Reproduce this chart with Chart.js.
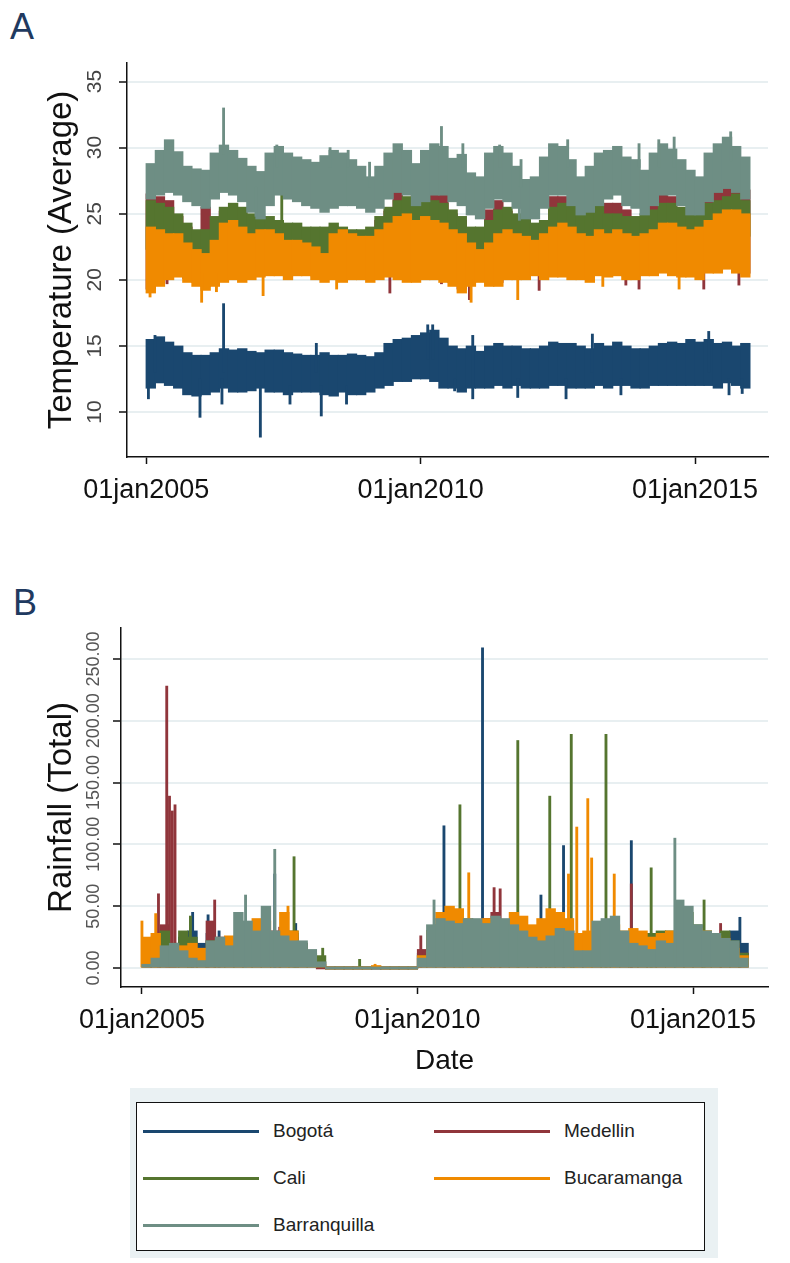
<!DOCTYPE html>
<html>
<head>
<meta charset="utf-8">
<script src="https://cdn.jsdelivr.net/npm/chart.js@4.4.1/dist/chart.umd.min.js"></script>
<style>
  body { margin: 0; background: #fff; width: 790px; height: 1263px; position: relative; overflow: hidden;
         font-family: "Liberation Sans", Arial, sans-serif; }
  canvas { position: absolute; left: 0; }
  .tag { position: absolute; font-size: 36px; line-height: 1; color: #1f3a60; }
  #legendBg { position: absolute; left: 130px; top: 1088px; width: 588px; height: 170px; background: #eaf1f3; }
  #legendBox { position: absolute; left: 136px; top: 1102px; width: 567px; height: 147px; border: 1.5px solid #111; background: #fff; }
  .key { position: absolute; height: 3px; width: 116px; }
  .lab { position: absolute; font-size: 19px; line-height: 20px; color: #222; }
</style>
</head>
<body>
<div class="tag" style="left:10px;top:9px">A</div>
<div class="tag" style="left:13px;top:585px">B</div>
<canvas id="chartA" width="790" height="540" style="top:0"></canvas>
<canvas id="chartB" width="790" height="520" style="top:560px"></canvas>
<div id="legendBg"></div>
<div id="legendBox"></div>
<div id="legend"></div>
<script>
// categories: two-month periods, Jan 2005 .. Nov 2015
const years = [2005, 2006, 2007, 2008, 2009, 2010, 2011, 2012, 2013, 2014, 2015]
const bimonthStarts = [0, 2, 4, 6, 8, 10]   // Jan, Mar, May, Jul, Sep, Nov
const xTicks = [2005, 2010, 2015]
const xTickLabels = ['01jan2005', '01jan2010', '01jan2015']
const tempTicks = [10, 15, 20, 25, 30, 35]
const rainTicks = [0, 50, 100, 150, 200, 250]

const cities = ['Bogotá', 'Medellin', 'Cali', 'Bucaramanga', 'Barranquilla']
const cityColors = ['#1a476f', '#90353b', '#55752f', '#f08a00', '#6e8e84']

// temperature, low / high edge of the daily band per period
const bogotaTempLo = [
  11.8, 12.2, 12.0, 11.8, 11.3, 11.2,  11.3, 11.5, 11.8, 11.5, 11.5, 11.6,
  11.8, 11.5, 11.5, 11.3, 11.5, 11.5,  11.5, 11.3, 11.2, 11.5, 11.3, 11.3,
  11.5, 11.8, 12.0, 12.3, 12.3, 12.5,  12.5, 12.3, 11.8, 11.8, 11.5, 11.8,
  11.8, 11.8, 12.0, 11.8, 12.0, 11.8,  11.8, 11.8, 12.0, 12.0, 11.8, 11.8,
  11.8, 12.0, 11.8, 12.0, 12.0, 11.8,  11.8, 12.0, 12.0, 12.0, 12.0, 12.0,
  12.0, 12.0, 11.8, 12.2, 12.0, 11.8]
const bogotaTempHi = [
  15.5, 15.7, 15.3, 15.0, 14.5, 14.3,  14.3, 14.5, 14.8, 14.7, 14.8, 14.6,
  14.5, 14.7, 14.7, 14.5, 14.4, 14.3,  14.3, 14.5, 14.3, 14.3, 14.4, 14.3,
  14.2, 14.5, 15.2, 15.5, 15.6, 15.8,  16.0, 16.2, 15.6, 15.0, 14.8, 15.0,
  14.6, 15.0, 15.2, 15.0, 15.0, 14.8,  14.8, 15.0, 15.3, 15.2, 15.2, 15.0,
  14.8, 15.2, 15.0, 15.3, 15.0, 14.8,  14.8, 15.0, 15.2, 15.3, 15.2, 15.5,
  15.3, 15.5, 15.2, 15.3, 15.0, 15.2]
const medellinTempLo = [
  19.3, 19.8, 20.3, 20.5, 20.1, 19.8,  19.5, 19.8, 20.1, 20.3, 20.1, 20.3,
  20.5, 20.6, 20.6, 20.3, 20.6, 20.6,  20.3, 20.1, 20.3, 20.1, 20.3, 20.3,
  20.1, 20.3, 20.5, 20.3, 20.1, 20.1,  20.3, 20.3, 20.1, 19.8, 19.3, 19.8,
  20.1, 19.8, 19.8, 20.3, 20.3, 20.3,  20.6, 20.3, 20.5, 20.5, 20.3, 20.3,
  20.1, 20.6, 20.5, 20.6, 20.3, 20.3,  20.6, 20.6, 20.8, 20.6, 20.5, 20.5,
  20.3, 20.8, 20.8, 21.1, 20.8, 20.5]
const medellinTempHi = [
  26.5, 26.3, 26.0, 24.8, 24.0, 23.5,  25.5, 24.5, 25.2, 25.5, 25.2, 24.7,
  24.5, 24.5, 24.2, 24.0, 24.0, 23.7,  23.7, 23.7, 24.0, 23.7, 23.5, 23.5,
  23.7, 24.5, 25.2, 27.0, 26.0, 26.5,  27.0, 27.0, 26.5, 25.0, 24.5, 23.7,
  23.7, 25.3, 26.0, 25.2, 24.7, 24.5,  24.0, 24.2, 26.3, 26.3, 25.5, 25.0,
  25.0, 25.5, 25.8, 25.8, 25.3, 24.5,  24.7, 26.0, 26.5, 26.3, 25.2, 25.0,
  25.0, 26.5, 26.8, 27.0, 27.0, 26.8]
const caliTempLo = [
  22.3, 22.5, 22.5, 22.3, 21.8, 21.5,  21.3, 21.8, 22.5, 22.8, 22.5, 22.3,
  22.3, 22.3, 22.0, 21.8, 21.8, 21.5,  21.3, 21.0, 21.8, 22.0, 21.8, 21.8,
  22.0, 22.3, 22.8, 23.0, 23.0, 22.8,  23.0, 22.8, 22.5, 22.0, 21.8, 21.5,
  21.3, 21.5, 22.0, 22.3, 22.0, 22.0,  21.8, 22.0, 22.5, 22.8, 22.5, 22.3,
  22.0, 22.3, 22.0, 22.3, 22.0, 22.0,  22.0, 22.3, 22.8, 22.8, 22.5, 22.3,
  22.5, 23.0, 23.3, 23.5, 23.5, 23.3]
const caliTempHi = [
  26.0, 25.8, 25.5, 25.0, 24.3, 23.8,  23.8, 24.8, 25.5, 25.8, 25.5, 25.0,
  24.8, 24.8, 24.5, 24.3, 24.3, 24.0,  24.0, 24.0, 24.3, 24.0, 23.8, 23.8,
  24.0, 24.8, 25.5, 26.0, 26.3, 25.8,  26.3, 26.0, 25.8, 25.3, 24.8, 24.0,
  24.0, 24.5, 25.3, 25.5, 25.0, 24.8,  24.3, 24.5, 25.5, 25.8, 25.8, 25.3,
  25.3, 25.8, 25.0, 25.0, 24.8, 24.8,  25.0, 25.3, 25.8, 25.8, 25.5, 25.3,
  25.3, 25.8, 26.0, 26.3, 26.5, 26.0]
const bucaramangaTempLo = [
  19.0, 19.5, 20.0, 20.2, 19.8, 19.5,  19.2, 19.5, 19.8, 20.0, 19.8, 20.0,
  20.2, 20.3, 20.3, 20.0, 20.3, 20.3,  20.0, 19.8, 20.0, 19.8, 20.0, 20.0,
  19.8, 20.0, 20.2, 20.0, 19.8, 19.8,  20.0, 20.0, 19.8, 19.5, 19.0, 19.5,
  19.8, 19.5, 19.5, 20.0, 20.0, 20.0,  20.3, 20.0, 20.2, 20.2, 20.0, 20.0,
  19.8, 20.3, 20.2, 20.3, 20.0, 20.0,  20.3, 20.3, 20.5, 20.3, 20.2, 20.2,
  20.0, 20.5, 20.5, 20.8, 20.5, 20.2]
const bucaramangaTempHi = [
  24.0, 23.8, 23.5, 23.5, 22.8, 22.3,  22.0, 23.0, 24.3, 24.5, 24.0, 23.5,
  23.8, 23.8, 23.5, 23.0, 23.0, 22.8,  22.5, 22.0, 23.5, 23.8, 23.5, 23.3,
  23.3, 23.8, 24.3, 24.8, 25.0, 24.5,  24.8, 24.5, 24.3, 23.8, 23.5, 22.8,
  22.3, 22.8, 23.5, 23.8, 23.5, 23.3,  23.0, 23.5, 24.0, 24.3, 24.0, 23.5,
  23.3, 23.8, 23.5, 23.8, 23.5, 23.3,  23.5, 23.8, 24.3, 24.3, 24.0, 23.8,
  24.0, 24.5, 25.0, 25.3, 25.3, 25.0]
const barranquillaTempLo = [
  26.1, 26.4, 26.6, 26.4, 25.9, 25.6,  25.4, 26.1, 26.6, 26.4, 25.9, 25.1,
  24.6, 25.6, 26.4, 26.1, 25.9, 25.6,  25.4, 25.1, 25.4, 25.6, 25.6, 25.4,
  25.1, 25.4, 26.1, 26.6, 26.4, 25.6,  25.9, 26.4, 26.4, 25.9, 25.6, 24.9,
  24.6, 25.4, 26.1, 25.9, 25.4, 24.6,  24.6, 25.4, 26.4, 26.4, 25.6, 24.9,
  25.1, 25.6, 26.1, 26.4, 25.6, 25.4,  24.9, 25.6, 26.4, 26.4, 25.6, 24.9,
  24.9, 25.9, 26.6, 26.9, 26.6, 26.1]
const barranquillaTempHi = [
  28.8, 29.8, 30.6, 29.7, 28.6, 28.4,  28.3, 29.6, 30.2, 29.8, 29.2, 28.6,
  28.2, 29.6, 30.1, 29.6, 29.3, 29.1,  28.9, 29.4, 29.8, 29.6, 29.1, 28.6,
  27.8, 28.6, 29.6, 30.3, 29.8, 28.8,  29.8, 30.3, 30.1, 29.2, 29.5, 28.1,
  27.8, 29.6, 30.1, 29.6, 28.6, 27.6,  27.8, 29.3, 30.3, 30.1, 29.1, 27.8,
  28.6, 29.6, 29.8, 30.1, 29.3, 29.1,  28.3, 29.6, 30.3, 29.9, 29.1, 28.3,
  27.8, 29.6, 30.3, 30.8, 30.1, 29.3]

// single-day temperature extremes: [date, low, high]
const bogotaTempSpikes = [[2005.04, 11.0, 13.0], [2005.16, 13.0, 15.8], [2005.98, 9.6, 12.5], [2006.38, 10.6, 12.5],
  [2006.41, 13.0, 18.2], [2007.08, 8.1, 12.0], [2007.62, 10.6, 12.0], [2008.10, 13.0, 15.2], [2008.19, 9.7, 12.0],
  [2008.65, 10.6, 12.0], [2010.13, 14.0, 16.6], [2010.22, 14.0, 16.6], [2010.62, 11.6, 12.5], [2010.95, 11.0, 15.8],
  [2011.77, 11.1, 12.5], [2012.65, 11.0, 12.5], [2013.13, 13.0, 15.9], [2013.65, 11.3, 12.5], [2015.25, 13.0, 16.1],
  [2015.62, 11.3, 12.5], [2015.86, 11.4, 12.5]]
const medellinTempSpikes = [[2005.38, 19.7, 21.0], [2006.65, 20.2, 21.0], [2009.44, 19.0, 20.5], [2010.38, 19.7, 21.0],
  [2010.89, 18.5, 20.0], [2012.16, 19.2, 20.5], [2013.74, 19.6, 21.0], [2013.98, 19.3, 21.0], [2015.16, 19.3, 21.0],
  [2015.80, 19.6, 21.0]]
const caliTempSpikes = [[2007.47, 24.0, 27.5]]
const bucaramangaTempSpikes = [[2005.07, 18.7, 20.0], [2006.01, 18.3, 20.5], [2006.28, 19.1, 20.5], [2007.13, 18.8, 20.5],
  [2008.47, 19.3, 20.5], [2010.92, 18.3, 20.0], [2011.77, 18.5, 20.2], [2013.32, 19.5, 20.5], [2014.71, 19.3, 20.5]]
const barranquillaTempSpikes = [[2006.41, 29.5, 33.0], [2007.00, 24.8, 27.0], [2007.38, 28.5, 30.2], [2008.35, 28.5, 30.0],
  [2008.68, 28.5, 29.8], [2009.07, 27.0, 28.9], [2010.38, 29.5, 31.6], [2010.77, 28.5, 30.3], [2011.44, 28.5, 30.2],
  [2011.80, 24.5, 27.0], [2011.83, 27.0, 29.1], [2012.68, 28.5, 30.6], [2013.98, 28.5, 30.3], [2014.34, 28.5, 30.6],
  [2014.62, 28.5, 30.8], [2015.65, 29.0, 31.2]]

// rainfall, height of the dense part per period
const bogotaRain = [
   8, 15, 20, 15, 25, 30,  20, 28, 22, 18, 20, 18,  15, 30, 28, 22, 28, 20,
  10,  5,  0,  0,  0,  0,   0,  0,  0,  0,  0,  0,  12, 30, 35, 35, 30, 32,
  30, 36, 36, 30, 30, 28,  22, 30, 32, 35, 30, 22,  25, 28, 25, 30, 28, 28,
  25, 28, 22, 25, 30, 28,  25, 28, 22, 25, 30, 20]
const medellinRain = [
  10, 25, 35, 20, 15, 15,  15, 38, 25, 18, 22, 20,  22, 30, 30, 20, 25, 20,
  10,  0,  0,  0,  0,  0,   0,  0,  0,  0,  0,  0,  15, 30, 35, 30, 35, 30,
  30, 40, 45, 35, 30, 28,  20, 25, 35, 30, 28, 25,  25, 30, 28, 30, 25, 22,
  22, 25, 22, 25, 30, 25,  20, 25, 22, 28, 20, 12]
const caliRain = [
  10, 15, 30, 20, 30, 25,  15, 22, 20, 15, 20, 18,  18, 25, 22, 30, 30, 20,
  12, 10,  0,  0,  0,  0,   0,  0,  0,  0,  0,  0,  10, 30, 35, 38, 35, 35,
  30, 35, 38, 30, 35, 32,  25, 30, 32, 35, 30, 25,  28, 30, 30, 28, 25, 22,
  25, 28, 30, 30, 35, 45,  35, 30, 28, 30, 22, 12]
const bucaramangaRain = [
  25, 28, 12, 10, 18, 20,  16, 15, 22, 26, 22, 20,  40, 38, 25, 45, 30, 15,
   8,  3,  0,  0,  0,  0,   0,  2,  0,  0,  0,  0,  10, 30, 45, 50, 48, 40,
  32, 40, 35, 32, 45, 42,  35, 40, 48, 45, 40, 28,  30, 28, 25, 35, 30, 32,
  30, 25, 28, 30, 38, 28,  32, 30, 26, 24, 16, 10]
const barranquillaRain = [
   3,  8, 18, 20, 14,  8,   6, 22, 25, 18, 45, 38,  30, 50, 30, 26, 22, 22,
  15,  5,  0,  0,  0,  0,   0,  0,  0,  0,  0,  0,   8, 35, 40, 38, 36, 40,
  40, 36, 42, 40, 35, 30,  25, 22, 26, 32, 30, 14,  14, 38, 40, 42, 30, 20,
  18, 15, 22, 20, 55, 50,  35, 30, 28, 24, 22,  8]

// single-day rainfall peaks: [date, value]
const bogotaRainSpikes = [[2005.92, 45], [2006.20, 43], [2006.40, 30], [2007.41, 76], [2007.79, 36], [2010.48, 115],
  [2011.18, 259], [2012.24, 59], [2012.65, 99], [2013.88, 103], [2015.85, 41]]
const medellinRainSpikes = [[2005.30, 60], [2005.45, 228], [2005.50, 139], [2005.55, 127], [2005.60, 132], [2006.32, 55],
  [2007.50, 33], [2010.06, 26], [2011.39, 65], [2011.50, 64], [2013.88, 68], [2015.50, 36]]
const caliRainSpikes = [[2005.88, 42], [2007.76, 90], [2008.28, 16], [2008.95, 7], [2010.77, 132], [2011.82, 184],
  [2012.40, 139], [2012.79, 189], [2013.42, 189], [2014.24, 81], [2015.20, 55]]
const bucaramangaRainSpikes = [[2005.00, 38], [2005.25, 44], [2007.65, 50], [2009.23, 3], [2010.93, 77], [2012.74, 76],
  [2012.89, 114], [2013.09, 137], [2013.16, 89], [2013.57, 76]]
const barranquillaRainSpikes = [[2006.88, 59], [2007.41, 96], [2010.30, 55], [2014.67, 105]]

const tempLo = [bogotaTempLo, medellinTempLo, caliTempLo, bucaramangaTempLo, barranquillaTempLo]
const tempHi = [bogotaTempHi, medellinTempHi, caliTempHi, bucaramangaTempHi, barranquillaTempHi]
const tempSpikes = [bogotaTempSpikes, medellinTempSpikes, caliTempSpikes, bucaramangaTempSpikes, barranquillaTempSpikes]
const rain = [bogotaRain, medellinRain, caliRain, bucaramangaRain, barranquillaRain]
const rainSpikes = [bogotaRainSpikes, medellinRainSpikes, caliRainSpikes, bucaramangaRainSpikes, barranquillaRainSpikes]

// centre of each two-month period as a decimal year
const periodX = years.flatMap(y => bimonthStarts.map(m => y + (m + 1) / 12))

const FONT = '"Liberation Sans", Arial, sans-serif'
Chart.defaults.font.family = FONT
Chart.defaults.color = '#111'

// stata style y labels, turned to read upwards
const rotatedYTicks = {
    id: 'rotY',
    afterDraw(chart, args, opts) {
        const s = chart.scales.y
        const ctx = chart.ctx
        ctx.save()
        ctx.font = opts.size + 'px ' + FONT
        ctx.fillStyle = opts.color
        ctx.textAlign = 'center'
        ctx.textBaseline = 'alphabetic'
        s.ticks.forEach(t => {
            ctx.save()
            ctx.translate(opts.x, s.getPixelForValue(t.value))
            ctx.rotate(-Math.PI / 2)
            ctx.fillText(opts.fmt(t.value), 0, 0)
            ctx.restore()
        })
        ctx.restore()
    }
}

function xScale(min, max, height) {
    return {
        type: 'linear', min, max, offset: false,
        afterBuildTicks: s => { s.ticks = xTicks.map(v => ({ value: v })) },
        afterFit: s => { s.height = height },
        ticks: {
            autoSkip: false, maxRotation: 0, padding: 10, color: '#111',
            font: { size: 27 },
            callback: v => xTickLabels[xTicks.indexOf(v)]
        },
        grid: { drawOnChartArea: false, drawTicks: true, tickLength: 7, tickColor: '#111', tickWidth: 1.5, offset: false },
        border: { color: '#111', width: 1.5 }
    }
}

function yScale(min, max, ticks, width, title) {
    return {
        type: 'linear', min, max, stacked: false,
        afterBuildTicks: s => { s.ticks = ticks.map(v => ({ value: v })) },
        afterFit: s => { s.width = width },
        ticks: { display: false },
        grid: { color: '#e8eff1', lineWidth: 2, drawTicks: true, tickLength: 8, tickColor: '#111', tickWidth: 1.5 },
        border: { color: '#111', width: 1.5 },
        title: { display: true, text: title, color: '#111', font: { size: 33, lineHeight: 1 }, padding: { top: 45, bottom: 0 } }
    }
}

const dsA = []
const dsB = []
cities.forEach((city, k) => {
    dsA.push({
        label: city, stack: 's', order: 10 - 2 * k, backgroundColor: cityColors[k], barThickness: 9.7,
        data: periodX.map((x, i) => ({ x, y: [tempLo[k][i], tempHi[k][i]] }))
    })
    dsA.push({
        label: city, stack: 's', order: 9 - 2 * k, backgroundColor: cityColors[k], barThickness: 2.2,
        data: tempSpikes[k].map(p => ({ x: p[0], y: [p[1], p[2]] }))
    })
    dsB.push({
        label: city, stack: 's', order: 10 - 2 * k, backgroundColor: cityColors[k], barThickness: 9.7, minBarLength: 2,
        data: periodX.map((x, i) => ({ x, y: rain[k][i] }))
    })
    dsB.push({
        label: city, stack: 's', order: 9 - 2 * k, backgroundColor: cityColors[k], barThickness: 2.2,
        data: rainSpikes[k].map(p => ({ x: p[0], y: p[1] }))
    })
})

const common = {
    responsive: false, animation: false, devicePixelRatio: 1,
    plugins: { legend: { display: false }, tooltip: { enabled: false } }
}

new Chart(document.getElementById('chartA'), {
    type: 'bar',
    data: { datasets: dsA },
    plugins: [rotatedYTicks],
    options: {
        ...common,
        layout: { padding: { top: 63, right: 22, left: 0, bottom: 0 } },
        plugins: { ...common.plugins, rotY: { x: 101, size: 21, color: '#444', fmt: v => String(v) } },
        scales: {
            x: xScale(2004.65, 2016.33, 83),
            y: yScale(6.6, 36.4, tempTicks, 127, 'Temperature (Average)')
        }
    }
})

const xB = xScale(2004.62, 2016.36, 93)
xB.title = { display: true, text: 'Date', color: '#111', font: { size: 28, lineHeight: 1 }, padding: { top: 0, bottom: 5 } }

new Chart(document.getElementById('chartB'), {
    type: 'bar',
    data: { datasets: dsB },
    plugins: [rotatedYTicks],
    options: {
        ...common,
        layout: { padding: { top: 68, right: 22, left: 0, bottom: 0 } },
        plugins: { ...common.plugins, rotY: { x: 99, size: 18, color: '#555', fmt: v => v.toFixed(2) } },
        scales: {
            x: xB,
            y: yScale(-15.4, 275, rainTicks, 121, 'Rainfall (Total)')
        }
    }
})

// legend box under both panels
const legendPos = [[143, 1131], [434, 1131], [143, 1178], [434, 1178], [143, 1225]]
const legend = document.getElementById('legend')
cities.forEach((city, k) => {
    const [x, y] = legendPos[k]
    const key = document.createElement('div')
    key.className = 'key'
    key.style.left = x + 'px'
    key.style.top = (y - 1) + 'px'
    key.style.background = cityColors[k]
    legend.appendChild(key)
    const lab = document.createElement('div')
    lab.className = 'lab'
    lab.style.left = (x + 130) + 'px'
    lab.style.top = (y - 10) + 'px'
    lab.textContent = city
    legend.appendChild(lab)
})
</script>
</body>
</html>
